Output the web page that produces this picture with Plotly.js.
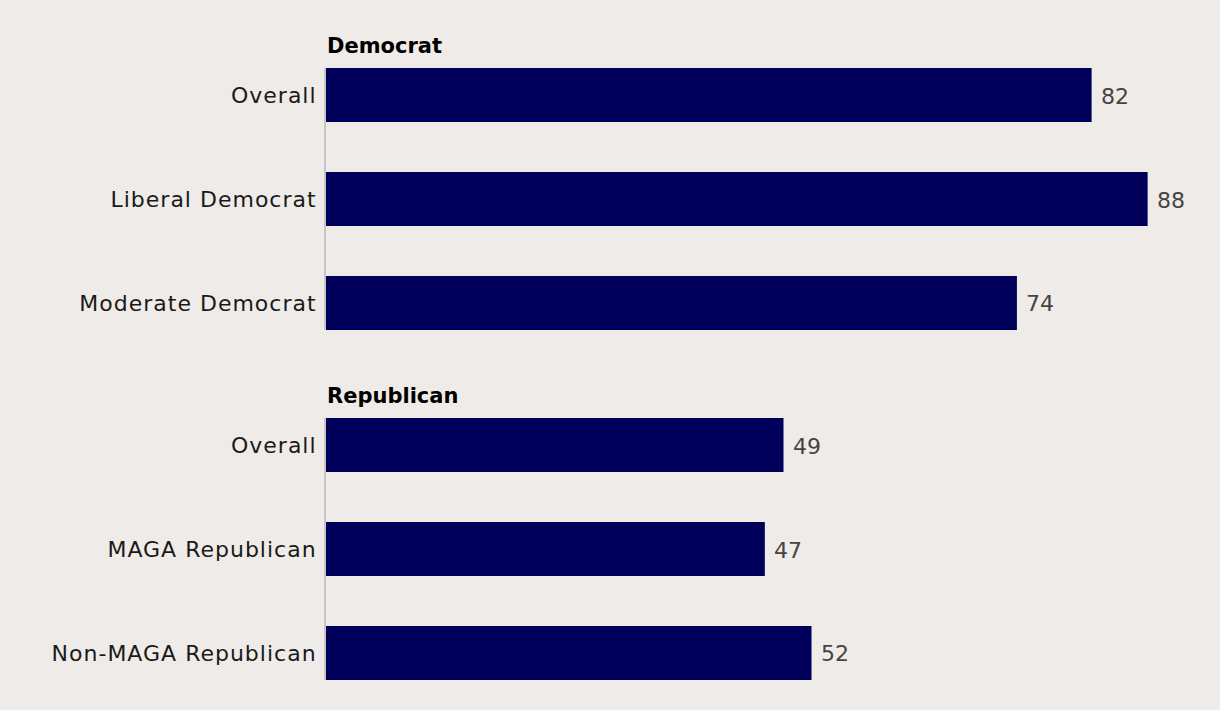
<!DOCTYPE html>
<html>
<head>
<meta charset="utf-8">
<script src="https://cdn.plot.ly/plotly-3.0.1.min.js"></script>
<style>
  html, body { margin: 0; padding: 0; background: #EFEBE8; }
  #chart { width: 1220px; height: 710px; }
  .ytick text, .y2tick text { letter-spacing: 1px; }
</style>
</head>
<body>
<div id="chart"></div>
<script>
const groupTitles = ["Democrat", "Republican"];
const demCategories = ["Overall", "Liberal Democrat", "Moderate Democrat"];
const demValues = [82, 88, 74];
const repCategories = ["Overall", "MAGA Republican", "Non-MAGA Republican"];
const repValues = [49, 47, 52];

const barColor = "#00005A";
const fontFamily = "'DejaVu Sans', 'Open Sans', sans-serif";

// Unique internal ids for the repeated "Overall" category
const demIds = demCategories.map((c, i) => "d" + i);
const repIds = repCategories.map((c, i) => "r" + i);

const traces = [
  {
    type: "bar", orientation: "h",
    x: demValues, y: demIds,
    xaxis: "x", yaxis: "y",
    marker: { color: barColor },
    hoverinfo: "skip", width: 0.52
  },
  {
    type: "bar", orientation: "h",
    x: repValues, y: repIds,
    xaxis: "x2", yaxis: "y2",
    marker: { color: barColor },
    hoverinfo: "skip", width: 0.52
  }
];

const valueFont = { family: fontFamily, size: 22, color: "#444444" };
const annotations = [];
demValues.forEach((v, i) => annotations.push({
  x: v, y: demIds[i], xref: "x", yref: "y", text: String(v),
  showarrow: false, xanchor: "left", xshift: 7, yshift: -1, font: valueFont
}));
repValues.forEach((v, i) => annotations.push({
  x: v, y: repIds[i], xref: "x2", yref: "y2", text: String(v),
  showarrow: false, xanchor: "left", xshift: 7, yshift: -1, font: valueFont
}));

const topDomain = [350 / 612, 1];
const botDomain = [0, 262 / 612];
const titleFont = { family: fontFamily, size: 21, color: "#000000", weight: "bold" };
annotations.push({
  x: 0, y: topDomain[1], xref: "paper", yref: "paper", text: groupTitles[0],
  showarrow: false, xanchor: "left", yanchor: "bottom", xshift: -1, yshift: 8,
  font: titleFont
});
annotations.push({
  x: 0, y: botDomain[1], xref: "paper", yref: "paper", text: groupTitles[1],
  showarrow: false, xanchor: "left", yanchor: "bottom", xshift: -1, yshift: 8,
  font: titleFont
});

const yCommon = {
  type: "category",
  range: [2.26, -0.26],
  showline: true, linecolor: "#C9C5C2", linewidth: 2,
  showgrid: false, zeroline: false,
  ticks: "outside", ticklen: 3, tickcolor: "rgba(0,0,0,0)",
  tickfont: { family: fontFamily, size: 22, color: "#1A1A1A" },
  fixedrange: true
};
const xCommon = {
  range: [0, 95], showgrid: false, zeroline: false, showline: false,
  showticklabels: false, ticks: "", fixedrange: true
};

const layout = {
  width: 1220, height: 710,
  paper_bgcolor: "#EFEBE8", plot_bgcolor: "#EFEBE8",
  margin: { l: 326, r: 7, t: 68, b: 30 },
  showlegend: false,
  xaxis: Object.assign({}, xCommon, { anchor: "y" }),
  xaxis2: Object.assign({}, xCommon, { anchor: "y2" }),
  yaxis: Object.assign({}, yCommon, {
    domain: topDomain, anchor: "x",
    tickvals: demIds, ticktext: demCategories
  }),
  yaxis2: Object.assign({}, yCommon, {
    domain: botDomain, anchor: "x2",
    tickvals: repIds, ticktext: repCategories
  }),
  annotations: annotations
};

Plotly.newPlot("chart", traces, layout, { displayModeBar: false, staticPlot: true });
</script>
</body>
</html>
